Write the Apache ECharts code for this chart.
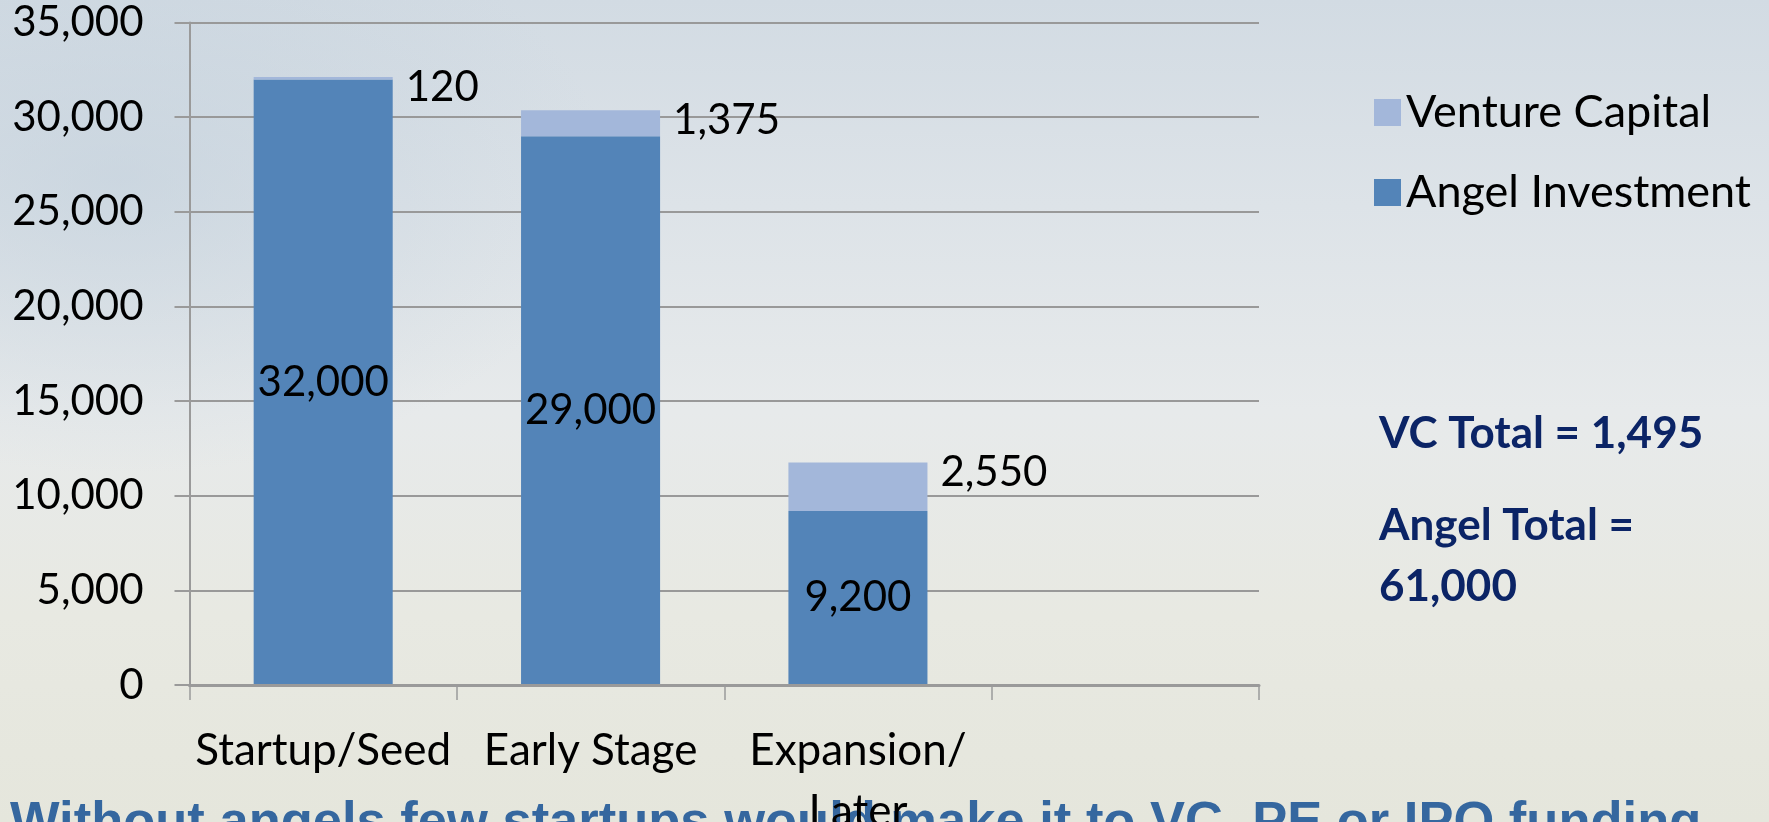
<!DOCTYPE html>
<html>
<head>
<meta charset="utf-8">
<script src="https://cdn.jsdelivr.net/npm/echarts@6/dist/echarts.min.js"></script>
<style>
html,body{margin:0;padding:0;width:1769px;height:822px;overflow:hidden;}
body{
  background:
    radial-gradient(ellipse 700px 420px at 120px 180px, rgba(190,205,218,0.55), rgba(190,205,218,0) 70%),
    linear-gradient(180deg, #d2dbe3 0%, #dde3e8 25%, #e7eaeb 50%, #e8e9e2 75%, #e5e6dc 100%);
}
#chart{width:1769px;height:822px;}
</style>
</head>
<body>
<div id="chart"></div>
<script>
const categories = ['Startup/Seed', 'Early Stage', 'Expansion/\nLater', ''];
const angelInvestment = [32000, 29000, 9200];
const ventureCapital = [120, 1375, 2550];
const yTicks = { min: 0, max: 35000, interval: 5000 };
const vcTotalText = 'VC Total = 1,495';
const angelTotalText = 'Angel Total =\n61,000';
const footerText = 'Without angels few startups would make it to VC, PE or IPO funding';

const chart = echarts.init(document.getElementById('chart'), null, {renderer: 'canvas'});
const fmt = v => Number(v).toLocaleString('en-US');

chart.setOption({
  backgroundColor: 'transparent',
  animation: false,
  textStyle: { fontFamily: 'Lato' },
  grid: { left: 189.5, right: 510, top: 22.6, bottom: 137, containLabel: false, outerBoundsMode: 'none' },
  legend: {
    data: ['Venture Capital', 'Angel Investment'],
    orient: 'vertical',
    left: 1369,
    top: 85,
    icon: 'rect',
    itemWidth: 27,
    itemHeight: 27,
    itemGap: 35,
    textStyle: { fontFamily: 'Lato', fontSize: 45, color: '#000', padding: [0, 0, 0, 0] }
  },
  xAxis: {
    type: 'category',
    data: categories,
    zlevel: 2,
    z: 10,
    axisLine: { show: true, lineStyle: { color: '#9a9a9a', width: 3 } },
    axisTick: { show: true, length: 15, lineStyle: { color: '#9a9a9a', width: 1.5 } },
    axisLabel: { interval: 0, margin: 35, fontFamily: 'Lato', fontSize: 44, color: '#000', lineHeight: 61 }
  },
  yAxis: {
    type: 'value',
    min: yTicks.min, max: yTicks.max, interval: yTicks.interval,
    axisLine: { show: true, lineStyle: { color: '#9a9a9a', width: 2 } },
    axisTick: { show: true, length: 15, lineStyle: { color: '#9a9a9a', width: 2 } },
    splitLine: { show: true, lineStyle: { color: '#999999', width: 2 } },
    axisLabel: { margin: 46, fontFamily: 'Lato', fontSize: 42, color: '#000', formatter: fmt }
  },
  series: [
    {
      name: 'Angel Investment',
      type: 'bar',
      stack: 'total',
      barWidth: '52%',
      data: angelInvestment,
      itemStyle: { color: '#5384b8' },
      label: { show: true, position: 'inside', fontFamily: 'Lato', fontSize: 42, color: '#000', formatter: p => fmt(p.value) }
    },
    {
      name: 'Venture Capital',
      type: 'bar',
      stack: 'total',
      barWidth: '52%',
      data: ventureCapital,
      itemStyle: { color: '#a3b7da' },
      label: {
        show: true, position: ['100%', 0], align: 'left', verticalAlign: 'middle',
        offset: [13, 10], fontFamily: 'Lato', fontSize: 42, color: '#000',
        formatter: p => fmt(p.value)
      }
    }
  ],
  graphic: {
    zlevel: 0,
    z: 0,
    elements: [
      {
        type: 'text', left: 1379, top: 412, zlevel: 0, z: 0,
        style: { text: vcTotalText, fontFamily: 'Lato', fontWeight: 'bold', fontSize: 44, fill: '#0b2466' }
      },
      {
        type: 'text', left: 1379, top: 495, zlevel: 0, z: 0,
        style: { text: angelTotalText, fontFamily: 'Lato', fontWeight: 'bold', fontSize: 44, lineHeight: 61, fill: '#0b2466' }
      },
      {
        type: 'text', left: 10, top: 797, zlevel: 0, z: 0,
        style: { text: footerText, fontFamily: 'Liberation Sans', fontWeight: 'bold', fontSize: 52.5, fill: '#35679f' }
      }
    ]
  }
});
</script>
</body>
</html>
